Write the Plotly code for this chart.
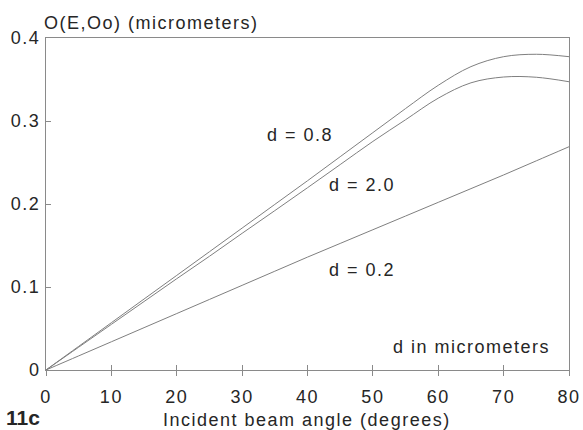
import plotly.graph_objects as go

# Incident beam angle (degrees)
angles = [0, 5, 10, 15, 20, 25, 30, 35, 40, 45, 50, 55, 60, 65, 70, 75, 80]

# O(E,Oo) in micrometers for three layer thicknesses d
d08 = [0, 0.0285, 0.057, 0.0855, 0.114, 0.1425, 0.171, 0.1995, 0.228, 0.257,
       0.286, 0.3150, 0.3430, 0.3655, 0.3775, 0.3804, 0.3775]
d20 = [0, 0.0275, 0.055, 0.0825, 0.110, 0.137, 0.1647, 0.192, 0.2196, 0.2475,
       0.2754, 0.3015, 0.3275, 0.3460, 0.3530, 0.3527, 0.3473]
d02 = [0, 0.017, 0.034, 0.051, 0.068, 0.085, 0.102, 0.119, 0.136, 0.1525,
       0.169, 0.1855, 0.202, 0.2185, 0.235, 0.252, 0.269]

x_ticks = [0, 10, 20, 30, 40, 50, 60, 70, 80]
y_ticks = [0, 0.1, 0.2, 0.3, 0.4]
y_tick_text = ["0", "0.1", "0.2", "0.3", "0.4"]

FONT = "Liberation Sans, Arial, sans-serif"
TXT = "#262626"
LINE = "#7f7f7f"
FRAME = "#8a8a8a"

# plot-area box in pixels (used to place the free text in paper units)
L, R, T, B = 46, 569, 38, 370
W, H = 583, 430


def spaced(s, px=1.5):
    return f'<span style="letter-spacing:{px}px">{s}</span>'


def px_x(px):
    return (px - L) / (R - L)


def px_y(py):
    return (B - py) / (B - T)


fig = go.Figure()
for ys in (d08, d20, d02):
    fig.add_trace(go.Scatter(
        x=angles, y=ys, mode="lines",
        line=dict(color=LINE, width=1, shape="spline", smoothing=1.0),
        showlegend=False, hoverinfo="skip",
    ))

# invisible trace on the overlay axis so its inward ticks are drawn
fig.add_trace(go.Scatter(x=[0], y=[0], xaxis="x2", mode="markers",
                         marker=dict(opacity=0), showlegend=False, hoverinfo="skip"))

fig.update_layout(
    width=W, height=H,
    margin=dict(l=L, r=W - R, t=T, b=H - B),
    paper_bgcolor="white", plot_bgcolor="white",
    font=dict(family=FONT, color=TXT, size=18),
    xaxis=dict(
        range=[0, 80], tickvals=x_ticks, ticktext=[spaced(str(v)) for v in x_ticks],
        ticks="outside", ticklen=5, tickcolor=FRAME, tickwidth=1,
        showline=True, linecolor=FRAME, linewidth=1, mirror=True,
        showgrid=False, zeroline=False, ticklabelstandoff=5, automargin=False,
        tickfont=dict(size=18, color=TXT),
    ),
    xaxis2=dict(
        range=[0, 80], tickvals=x_ticks, overlaying="x", side="bottom",
        ticks="inside", ticklen=5, tickcolor=FRAME, tickwidth=1,
        showticklabels=False, showline=False, showgrid=False, zeroline=False,
        anchor="y", automargin=False,
    ),
    yaxis=dict(
        range=[0, 0.4], tickvals=y_ticks, ticktext=[spaced(t) for t in y_tick_text],
        ticks="inside", ticklen=5, tickcolor=FRAME, tickwidth=1,
        showline=True, linecolor=FRAME, linewidth=1, mirror=True,
        showgrid=False, zeroline=False, ticklabelstandoff=1, automargin=False,
        tickfont=dict(size=18, color=TXT),
    ),
)


def note(text, x, y, xref="x", yref="y", size=18, bold=False, xanchor="center", ls=1.5):
    body = f"<b>{text}</b>" if bold else spaced(text, ls)
    fig.add_annotation(
        text=body, x=x, y=y, xref=xref, yref=yref,
        showarrow=False, xanchor=xanchor, yanchor="middle",
        font=dict(family=FONT, size=size, color=TXT),
    )


note("d = 0.8", 38.8, 0.283)
note("d = 2.0", 48.4, 0.223)
note("d = 0.2", 48.4, 0.121)
note("d in micrometers", 65.1, 0.0277)

# axis titles and panel tag
note("O(E,Oo) (micrometers)", px_x(42), px_y(23.5), xref="paper", yref="paper",
     xanchor="left")
note("Incident beam angle (degrees)", px_x(307), px_y(420), xref="paper", yref="paper")
note("11c", px_x(4), px_y(417), xref="paper", yref="paper", size=21, bold=True,
     xanchor="left")

fig.write_html("out.html")
